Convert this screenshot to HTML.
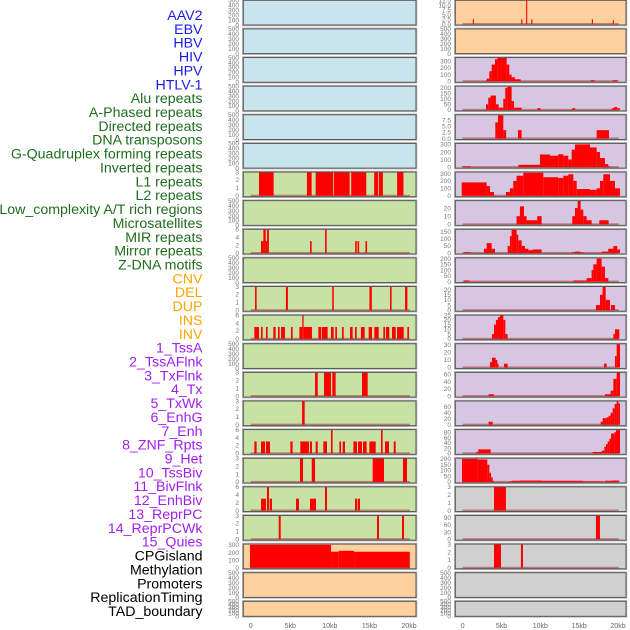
<!DOCTYPE html>
<html><head><meta charset="utf-8"><style>
html,body{margin:0;padding:0;background:#fff;}
svg{display:block;font-family:"Liberation Sans",sans-serif;}
</style></head><body>
<svg id="chart" width="630" height="630" viewBox="0 0 630 630" xmlns="http://www.w3.org/2000/svg"></svg>
<script>
const labels = ["AAV2","EBV","HBV","HIV","HPV","HTLV-1","Alu repeats","A-Phased repeats","Directed repeats","DNA transposons","G-Quadruplex forming repeats","Inverted repeats","L1 repeats","L2 repeats","Low_complexity A/T rich regions","Microsatellites","MIR repeats","Mirror repeats","Z-DNA motifs","CNV","DEL","DUP","INS","INV","1_TssA","2_TssAFlnk","3_TxFlnk","4_Tx","5_TxWk","6_EnhG","7_Enh","8_ZNF_Rpts","9_Het","10_TssBiv","11_BivFlnk","12_EnhBiv","13_ReprPC","14_ReprPCWk","15_Quies","CPGisland","Methylation","Promoters","ReplicationTiming","TAD_boundary"];
const labelGroups = [6,13,5,15,5];
const xTickLabels = ["0","5kb","10kb","15kb","20kb"];
const xTickValues = [0,5,10,15,20];

const L6 = [[1.05,2.9,3],[7.1,7.7,3],[8.2,10.4,3],[10.5,12.5,3],[12.7,14.6,3],[15.6,16.1,3],[16.2,16.7,3],[18.5,19.3,3]];
const L8 = [[1.3,1.6,3],[1.6,1.9,6],[1.9,2.07,3],[2.07,2.3,6],[7.5,7.7,3],[9.4,9.6,6],[13.2,13.4,3],[13.5,13.7,3],[14.5,14.7,3]];
const L10 = [[0.55,0.75,3],[4.45,4.7,3],[10.3,10.5,3],[15.0,15.3,3],[17.6,17.8,3],[19.5,19.8,3]];
const L11 = [[0.46,1.05,3],[1.3,1.51,3],[1.93,2.14,3],[2.86,3.15,3],[3.45,3.66,3],[3.83,4.33,3],[5.09,5.3,3],[6.15,6.52,3],[6.52,6.69,6],[6.69,7.74,3],[8.55,8.88,3],[8.97,9.72,3],[10.14,10.48,3],[10.69,10.9,3],[11.54,11.75,3],[12.55,12.88,3],[13.18,13.39,3],[13.93,14.4,3],[14.9,15.33,3],[15.62,16.17,3],[16.76,16.97,3],[17.09,17.51,3],[17.85,18.32,3],[18.49,19.33,3],[19.79,20.0,3]];
const L13 = [[8.13,8.47,3],[9.26,10.14,3],[10.31,10.73,3],[14.06,14.78,3]];
const L14 = [[6.49,6.82,3]];
const L15 = [[0.46,0.75,3],[1.3,1.81,3],[1.93,2.44,3],[5.01,5.3,3],[6.27,7.36,3],[7.49,7.74,3],[8.21,8.47,3],[9.18,9.64,3],[10.14,10.35,6],[11.2,11.41,3],[11.62,11.91,3],[12.97,13.43,3],[13.56,14.06,3],[14.19,14.65,3],[14.99,15.79,3],[16.46,16.67,6],[16.97,17.47,3],[18.07,18.32,3]];
const L16 = [[6.23,6.61,3],[7.71,8.13,3],[15.41,16.84,3],[19.24,19.75,3]];
const L17 = [[1.3,1.93,3],[2.06,2.31,6],[2.4,2.69,3],[5.72,6.1,3],[7.49,8.25,3],[9.39,9.64,6],[13.18,13.43,3],[13.51,13.81,3]];
const L18 = [[3.54,3.79,3],[15.96,16.21,3],[19.12,19.37,3]];
const L19 = [[-0.09,10.15,300],[10.15,11.12,210],[11.12,13.06,222],[13.06,20.1,210]];

const R0 = [[1.3,1.45,2.5],[7.53,7.68,2.5],[8.17,8.31,12.5],[8.83,8.97,2.5],[16.63,16.77,2.5],[19.33,19.47,2]];
const R2 = [[2.74,3.09,5],[3.09,3.43,40],[3.43,3.73,150],[3.73,4.16,250],[4.16,4.46,330],[4.46,5.66,350],[5.66,6.0,250],[6.0,6.3,100],[6.3,6.73,60],[6.73,7.46,30],[16.5,17.0,15],[19.3,19.9,15]];
const R3 = [[3.0,3.29,50],[3.29,3.59,110],[3.59,4.28,130],[4.28,4.63,50],[4.63,5.23,20],[5.23,5.48,100],[5.48,5.74,200],[5.74,6.3,210],[6.3,6.6,80],[6.6,7.59,20],[9.6,10.03,15],[14.1,14.5,15],[19.2,19.5,15],[19.5,19.9,25],[19.9,20.25,15]];
const R4 = [[4.2,4.54,6.6],[4.54,5.23,9.5],[5.23,5.6,3.4],[7.12,7.59,3.4],[17.25,18.84,3.4]];
const R5 = [[-0.13,1.03,10],[7.16,9.95,30],[9.95,11.24,167],[11.24,12.31,150],[12.31,12.96,170],[12.96,13.6,150],[13.6,14.03,100],[14.03,14.46,230],[14.46,16.39,300],[16.39,17.25,260],[17.25,17.68,200],[17.68,18.32,120],[18.32,18.75,40],[18.75,18.97,10]];
const R6 = [[-0.13,3.08,180],[3.08,3.51,130],[3.51,4.03,50],[5.57,6.08,50],[6.08,6.51,100],[6.51,6.94,200],[6.94,7.8,270],[7.8,10.38,310],[10.38,11.24,250],[11.24,12.31,250],[12.31,12.96,240],[12.96,13.6,270],[13.6,14.25,290],[14.25,14.68,200],[14.68,16.39,90],[16.39,17.25,80],[17.25,17.68,100],[17.68,18.11,200],[18.11,18.97,290],[18.97,19.61,200],[19.61,20.26,100]];
const R7 = [[6.94,7.37,10],[7.37,7.89,22],[7.89,8.23,10],[8.23,9.6,5],[9.6,10.16,10],[14.11,14.46,10],[14.46,14.8,20],[14.8,15.19,29],[15.19,15.53,18],[15.53,15.96,10],[15.96,16.6,5],[17.59,18.79,5]];
const R8 = [[0.17,1.03,5],[2.74,3.08,30],[3.08,3.73,70],[3.73,4.16,30],[5.79,6.08,50],[6.08,6.3,120],[6.3,6.94,165],[6.94,7.16,130],[7.16,7.59,90],[7.59,8.02,50],[8.02,8.45,30],[8.45,9.0,20],[9.0,10.16,25],[14.03,14.46,5],[14.46,15.1,10],[15.1,15.53,5],[17.89,18.75,10],[18.75,19.4,30],[19.4,19.9,50],[19.9,20.26,25]];
const R9 = [[0.17,0.85,10],[14.25,15.96,10],[15.96,16.6,30],[16.6,16.82,100],[16.82,17.25,150],[17.25,17.89,200],[17.89,18.32,130],[18.32,18.75,30]];
const R10 = [[17.16,17.68,5],[17.68,18.02,15],[18.02,18.41,23],[18.41,18.97,10],[19.1,19.61,5]];
const R11 = [[3.77,4.03,5],[4.03,4.28,15],[4.28,4.54,20],[4.54,4.8,23],[4.8,5.23,25],[5.23,5.49,20],[5.49,5.79,5],[19.4,19.61,5],[19.61,20.17,10]];
const R12 = [[3.51,3.77,7],[3.77,4.24,13],[4.24,4.46,10],[4.46,4.63,5],[5.32,5.79,5],[18.2,18.54,5],[19.61,19.83,15],[19.83,20.26,31]];
const R13 = [[3.34,4.03,5],[18.32,19.05,5],[19.05,19.4,15],[19.4,19.83,47],[19.83,20.26,65]];
const R14 = [[3.34,3.86,10],[17.76,18.02,10],[18.02,18.54,22],[18.54,18.79,25],[18.79,19.05,30],[19.05,19.31,40],[19.31,19.57,55],[19.57,19.83,70],[19.83,20.04,80],[20.04,20.26,72]];
const R15 = [[1.71,2.0,5],[2.0,3.6,15],[16.73,17.89,5],[17.89,18.24,10],[18.24,18.45,25],[18.45,18.67,35],[18.67,18.88,45],[18.88,19.1,55],[19.1,19.53,75],[19.53,19.74,80],[19.74,20.26,88]];
const R16 = [[-0.09,1.92,200],[1.92,3.17,195],[3.17,3.43,150],[3.43,3.65,80],[3.65,3.86,40],[3.86,4.03,10],[6.0,6.3,5],[6.3,7.37,10],[7.37,10.16,12],[10.16,15.53,10],[15.53,18.11,5],[18.32,19.18,10],[19.18,20.17,12]];
const R17 = [[4.03,5.57,3]];
const R18 = [[17.16,17.68,100]];
const R19 = [[4.03,4.93,3],[7.5,7.76,3]];

const EMPTY = ["0","100","200","300","400","500"];
const T3 = ["0","1","2","3"], T6 = ["0","2","4","6"];
const leftTicks = [EMPTY,EMPTY,EMPTY,EMPTY,EMPTY,EMPTY,T3,EMPTY,T6,EMPTY,T3,T6,EMPTY,T3,T3,T6,T3,T6,T3,["0","100","200","300"],EMPTY,EMPTY];
const leftMax = [500,500,500,500,500,500,3,500,6,500,3,6,500,3,3,6,3,6,3,310,500,500];
const leftData = [null,null,null,null,null,null,L6,null,L8,null,L10,L11,null,L13,L14,L15,L16,L17,L18,L19,null,null];
const rightTicks = [["0.0","2.5","5.0","7.5","10.0","12.5"],EMPTY,["0","100","200","300"],["0","50","100","150","200"],["0.0","2.5","5.0","7.5"],["0","100","200","300"],["0","100","200","300"],["0","10","20"],["0","50","100","150"],["0","50","100","150","200"],["0","5","10","15","20"],["0","5","10","15","20","25"],["0","10","20","30"],["0","20","40","60"],["0","20","40","60"],["0","20","40","60","80"],["0","50","100","150","200"],T3,["0","30","60","90"],T3,EMPTY,EMPTY];
const rightMax = [12.5,500,355,215,9.7,313,320,29,169,206,23,25,31.5,65,80,90,206,3,100,3,500,500];
const rightData = [R0,null,R2,R3,R4,R5,R6,R7,R8,R9,R10,R11,R12,R13,R14,R15,R16,R17,R18,R19,null,null];

const leftBg = i => i<6 ? "#c8e4ec" : (i<19 ? "#c8e2a6" : "#fdd09e");
const rightBg = i => i<2 ? "#fdd09e" : (i<17 ? "#d6c6e2" : "#d0d0d0");
const labelColors = ["#1a1aee","#1e6e1e","#ffa500","#a020f0","#000000"];

const NS = "http://www.w3.org/2000/svg";
const svg = document.getElementById("chart");
function mk(tag, attrs, parent){ const e=document.createElementNS(NS,tag); for(const k in attrs) e.setAttribute(k,attrs[k]); (parent||svg).appendChild(e); return e; }

const rowTop = i => 0.3 + i*28.62;
const rowH = i => i<21 ? 24.7 : 15;
const cols = [
  {x0:243.3, x1:416, kb0:250.7, ppk:7.915, tickX:239, ticks:leftTicks, max:leftMax, data:leftData, bg:leftBg, side:"left"},
  {x0:455.3, x1:626, kb0:462.7, ppk:7.765, tickX:451, ticks:rightTicks, max:rightMax, data:rightData, bg:rightBg, side:"right"}
];

let li=0;
labelGroups.forEach((n,g)=>{ for(let k=0;k<n;k++){
  const t = mk("text",{x:202.5,y:15+13.86*li+5,"text-anchor":"end","font-size":"14.2",fill:labelColors[g]});
  t.textContent = labels[li];
  
  
  li++;
}});

cols.forEach(c=>{
  const xs = kb => c.kb0 + kb*c.ppk;
  for(let i=0;i<22;i++){
    const top=rowTop(i), h=rowH(i), bot=top+h;
    const g = mk("g",{});
    
    
    mk("rect",{x:c.x0-0.8,y:top-0.8,width:c.x1-c.x0+1.6,height:h+1.6,fill:"none",stroke:"#bbb","stroke-width":1},g);
    mk("rect",{x:c.x0,y:top,width:c.x1-c.x0,height:h,fill:c.bg(i)},g);
    const ymax=c.max[i];
    const base = bot-1;
    const ys = v => base - v/ymax*(base-top);
    const d=c.data[i];
    if(d){
      mk("rect",{x:xs(0),y:base-1,width:xs(20.1)-xs(0),height:2,fill:"rgba(170,50,50,0.55)"},g);
      d.forEach(s=>{
        const r=mk("rect",{x:xs(s[0]),y:ys(s[2]),width:Math.max(0.8,xs(s[1])-xs(s[0])),height:base-ys(s[2]),fill:"#ff0000"},g);
        
        
      });
    }
    mk("rect",{x:c.x0,y:top,width:c.x1-c.x0,height:h,fill:"none",stroke:"#555","stroke-width":1},g);
    const tk=c.ticks[i];
    const tmax = parseFloat(tk[tk.length-1]);
    tk.forEach(lab=>{
      const v=parseFloat(lab);
      const yy = d ? ys(v) : (bot - v/tmax*h);
      const t=mk("text",{x:c.tickX,y:yy+2.3,"text-anchor":"end","font-size":"6.5",fill:"#777"},g);
      t.textContent=lab;
      
      
    });
  }
  xTickValues.forEach((v,k)=>{
    const t=mk("text",{x:xs(v),y:628,"text-anchor":"middle","font-size":"7",fill:"#666"});
    t.textContent=xTickLabels[k];
    
    
  });
});
</script>
</body></html>
